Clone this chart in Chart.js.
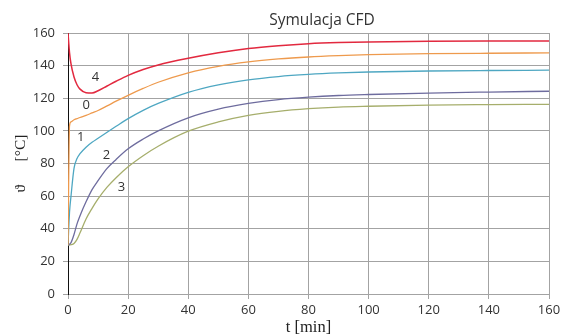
<!DOCTYPE html>
<html>
<head>
<meta charset="utf-8">
<script src="https://cdn.jsdelivr.net/npm/chart.js@4/dist/chart.umd.min.js"></script>
<style>
  html, body { margin: 0; padding: 0; background: #fff; }
  #wrap { width: 566px; height: 336px; }
</style>
</head>
<body>
<div id="wrap"><canvas id="cfdChart"></canvas></div>
<script>
// czas [min] - wspólny dla wszystkich krzywych
const times = [0, 0.5, 1, 2, 3, 4, 6, 8, 10, 13, 16, 20, 25, 30, 40, 50, 60, 70, 80, 90, 100, 120, 140, 160];

// temperatury [°C]
const curve0 = [30, 103, 105.5, 106.8, 107.5, 108.2, 109.5, 111, 112.5, 115.3, 118.2, 121.8, 126, 129.8, 135.6, 139.6, 142.3, 144.1, 145.3, 146.1, 146.7, 147.3, 147.6, 147.8];
const curve1 = [30, 50, 60, 77, 83, 86, 90, 93, 95.5, 99.2, 102.8, 107.5, 112.6, 116.8, 123.6, 128.2, 131.3, 133.3, 134.6, 135.5, 136.1, 136.7, 137, 137.2];
const curve2 = [30, 30.5, 31.5, 36.5, 43, 48, 56.5, 64, 69.5, 77, 82.5, 89, 95, 100, 108, 113.3, 116.8, 119.2, 120.7, 121.7, 122.3, 123.2, 123.8, 124.3];
const curve3 = [30, 30, 30.2, 31, 33.5, 37.5, 46, 52.5, 58.3, 65.5, 71.3, 78, 84.8, 90.6, 99.8, 105.5, 109.5, 112, 113.6, 114.6, 115.1, 115.8, 116.1, 116.3];
const curve4 = [160, 148, 141, 133, 128.3, 125.6, 123.4, 123.2, 124.6, 127.5, 130.4, 134, 137.6, 140.4, 144.5, 147.9, 150.5, 152.2, 153.4, 154.1, 154.5, 154.9, 155.05, 155.1];

// numery krzywych i miejsca podpisów (t, temperatura)
const curveNames = ['0', '1', '2', '3', '4'];
const labelT = [6.1, 4.2, 12.8, 17.8, 9.1];
const labelV = [115.6, 95.8, 85, 65.3, 132.9];

const xTicks = [0, 20, 40, 60, 80, 100, 120, 140, 160];
const yTicks = [0, 20, 40, 60, 80, 100, 120, 140, 160];

const colors = ['#ee9a4d', '#4ea7c2', '#6e6c9e', '#a6ae6c', '#e2293f'];
const allCurves = [curve0, curve1, curve2, curve3, curve4];

function toPoints(values) {
  return values.map((v, i) => ({ x: times[i], y: v }));
}

// podpisy 0..4 przy krzywych + tytuł
const labelsPlugin = {
  id: 'curveLabels',
  afterDraw(chart) {
    const c = chart.ctx;
    const xs = chart.scales.x, ys = chart.scales.y;
    c.save();
    c.fillStyle = '#333';
    c.font = '13px "Open Sans"';
    c.textAlign = 'center';
    c.textBaseline = 'middle';
    curveNames.forEach((n, i) => {
      c.fillText(n, xs.getPixelForValue(labelT[i]), ys.getPixelForValue(labelV[i]));
    });
    c.font = '15.5px "Open Sans"';
    c.fillText('Symulacja CFD', 322, 21);
    c.restore();
  }
};

new Chart(document.getElementById('cfdChart'), {
  type: 'line',
  data: {
    datasets: allCurves.map((vals, i) => ({
      label: curveNames[i],
      data: toPoints(vals),
      borderColor: colors[i],
      borderWidth: i == 4 ? 1.5 : 1.3,
      pointRadius: 0,
      cubicInterpolationMode: 'monotone',
      fill: false
    }))
  },
  options: {
    responsive: true,
    maintainAspectRatio: false,
    animation: false,
    layout: { padding: { left: 9, right: 17, top: 33, bottom: 0 } },
    plugins: {
      legend: { display: false },
      tooltip: { enabled: false }
    },
    scales: {
      x: {
        type: 'linear',
        min: 0,
        max: 160,
        afterFit(s) { s.height = 42; },
        afterBuildTicks(s) { s.ticks = xTicks.map(v => ({ value: v })); },
        grid: { color: '#a3a3a3', tickLength: 5, lineWidth: 1 },
        border: { color: '#a3a3a3' },
        ticks: { color: '#333', font: { family: 'Open Sans', size: 13 }, padding: 3, maxRotation: 0 },
        title: {
          display: true,
          text: 't [min]',
          color: '#222',
          font: { family: 'Liberation Serif', size: 16.5, lineHeight: 1 },
          padding: { top: 0, bottom: 0 }
        }
      },
      y: {
        min: 0,
        max: 160,
        afterFit(s) { s.width = 59; },
        afterBuildTicks(s) { s.ticks = yTicks.map(v => ({ value: v })); },
        grid: { color: '#a3a3a3', tickLength: 5, lineWidth: 1 },
        border: { color: '#111' },
        ticks: { color: '#333', font: { family: 'Open Sans', size: 13 }, padding: 8 },
        title: {
          display: true,
          text: 'ϑ      [°C]',
          color: '#222',
          font: { family: 'Liberation Serif, DejaVu Serif', size: 15.5, lineHeight: 1 },
          padding: { top: 4, bottom: 0 }
        }
      }
    }
  },
  plugins: [labelsPlugin]
});
</script>
</body>
</html>
